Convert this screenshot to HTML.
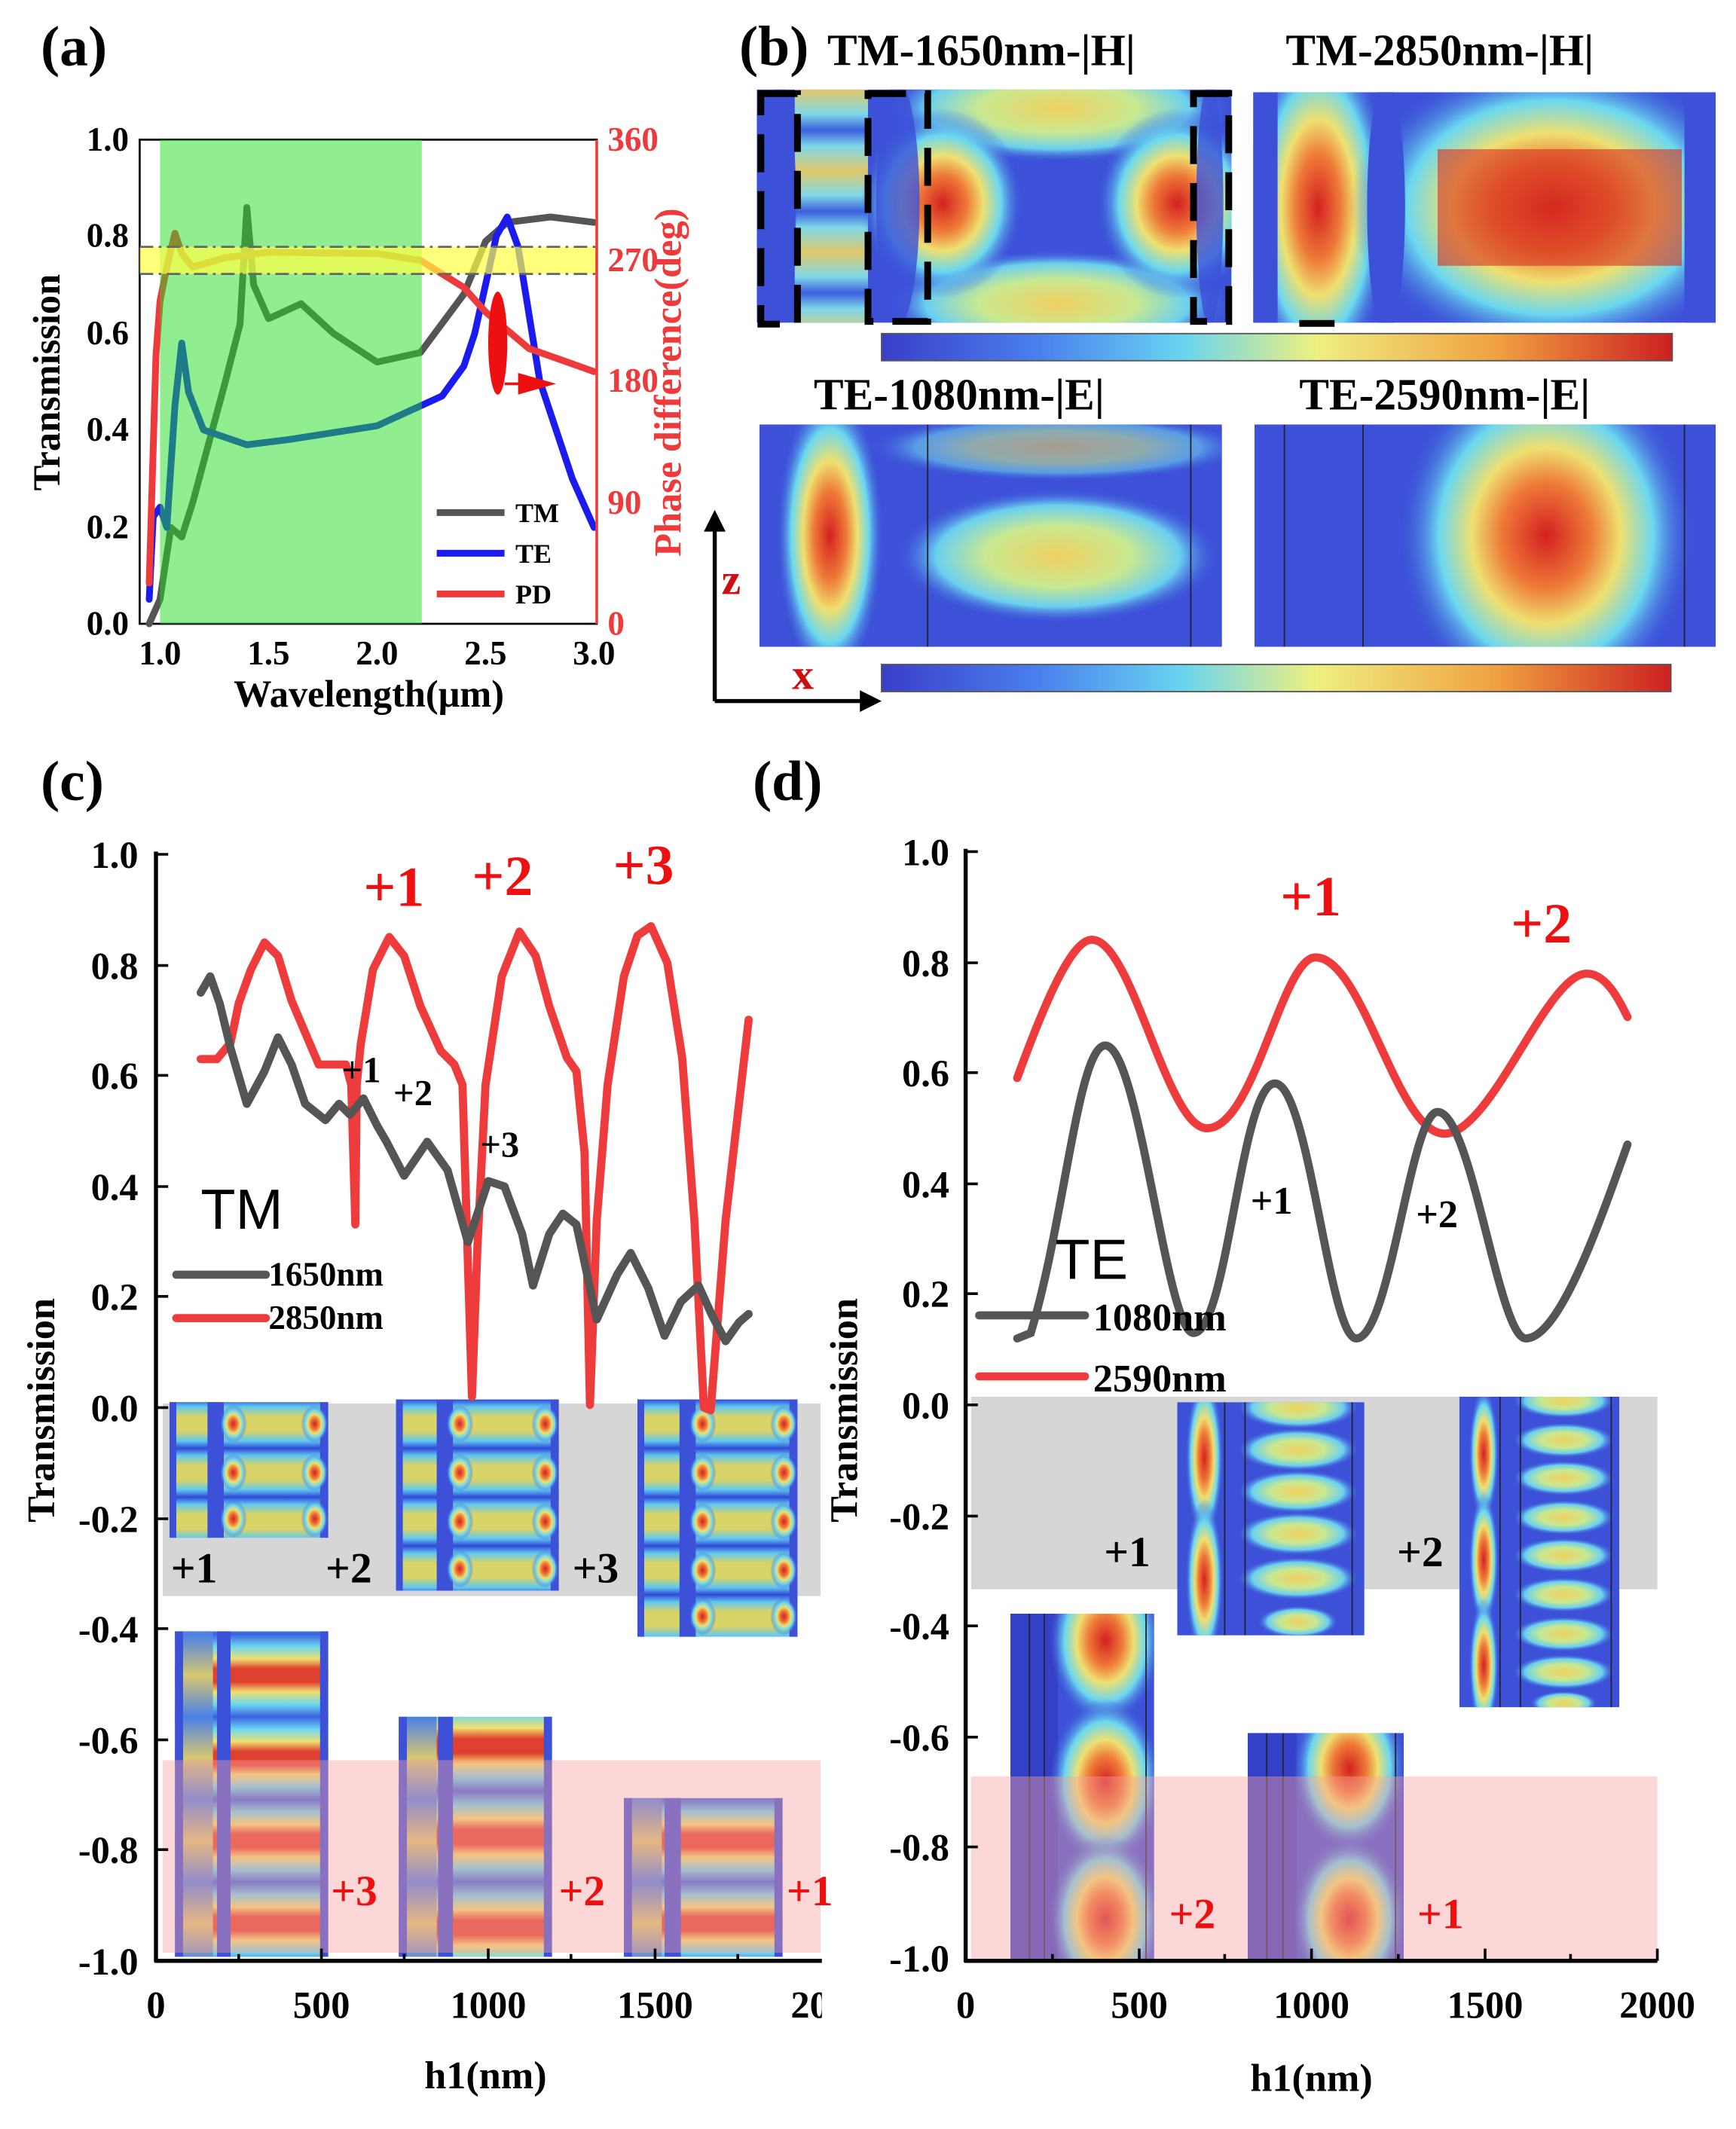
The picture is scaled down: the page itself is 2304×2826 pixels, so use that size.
<!DOCTYPE html>
<html><head><meta charset="utf-8"><style>html,body{margin:0;padding:0;background:#fff}svg{display:block}</style></head><body>
<svg xmlns="http://www.w3.org/2000/svg" width="2304" height="2826" viewBox="0 0 1280 1570" font-family="'Liberation Serif',serif" font-weight="bold">
<defs>
<radialGradient id="bl"><stop offset="0" stop-color="#d42020"/><stop offset=".3" stop-color="#ee7a38"/><stop offset=".5" stop-color="#eee070"/><stop offset=".72" stop-color="#6ad8f0"/><stop offset="1" stop-color="#3c50d8" stop-opacity="0"/></radialGradient>
<radialGradient id="yb"><stop offset="0" stop-color="#f0d060"/><stop offset=".45" stop-color="#c8e890"/><stop offset=".75" stop-color="#6ad0f0"/><stop offset="1" stop-color="#3c50d8" stop-opacity="0"/></radialGradient>
<linearGradient id="cb" x1="0" x2="1" y1="0" y2="0"><stop offset="0" stop-color="#3a3ec8"/><stop offset=".2" stop-color="#4a80ee"/><stop offset=".38" stop-color="#68d4f0"/><stop offset=".55" stop-color="#eef080"/><stop offset=".78" stop-color="#f0a040"/><stop offset="1" stop-color="#cc2020"/></linearGradient>
<linearGradient id="rowT" gradientUnits="userSpaceOnUse" x1="0" y1="1032" x2="0" y2="1068" spreadMethod="repeat"><stop offset="0" stop-color="#3048d8"/><stop offset=".15" stop-color="#60c8f0"/><stop offset=".35" stop-color="#d8d468"/><stop offset=".65" stop-color="#d8d468"/><stop offset=".85" stop-color="#60c8f0"/><stop offset="1" stop-color="#3048d8"/></linearGradient>
<linearGradient id="bTM" gradientUnits="userSpaceOnUse" x1="0" y1="66" x2="0" y2="126" spreadMethod="repeat"><stop offset="0" stop-color="#e0c868"/><stop offset=".3" stop-color="#80d8e8"/><stop offset=".5" stop-color="#3c60e0"/><stop offset=".7" stop-color="#80d8e8"/><stop offset="1" stop-color="#e0c868"/></linearGradient>
<linearGradient id="cL" gradientUnits="userSpaceOnUse" x1="0" y1="1205" x2="0" y2="1266" spreadMethod="repeat"><stop offset="0" stop-color="#3a60e0"/><stop offset=".15" stop-color="#6cd8f0"/><stop offset=".3" stop-color="#f0e070"/><stop offset=".42" stop-color="#e04030"/><stop offset=".58" stop-color="#e04030"/><stop offset=".7" stop-color="#f0e070"/><stop offset=".85" stop-color="#6cd8f0"/><stop offset="1" stop-color="#3a60e0"/></linearGradient>
<linearGradient id="cM" href="#cL" gradientUnits="userSpaceOnUse" x1="0" y1="1254" x2="0" y2="1321" spreadMethod="repeat"/>
<linearGradient id="cR" href="#cL" gradientUnits="userSpaceOnUse" x1="0" y1="1327" x2="0" y2="1388" spreadMethod="repeat"/>
<linearGradient id="sL" gradientUnits="userSpaceOnUse" x1="0" y1="1205" x2="0" y2="1266" spreadMethod="repeat"><stop offset="0" stop-color="#4a80e8"/><stop offset=".5" stop-color="#d8c870"/><stop offset="1" stop-color="#4a80e8"/></linearGradient>
</defs>

<!-- ============ (a) ============ -->
<text x="30" y="48" font-size="42">(a)</text>
<rect x="103" y="103" width="337" height="357" fill="none" stroke="#000" stroke-width="1.5"/>
<g fill="none" stroke-width="5" stroke-linejoin="round" stroke-linecap="round">
<polyline stroke="#555" points="110,460 118,442 126,389 134,396 142,371 166,282 177,239 182,153 187,210 198,235 222,224 246,246 278,267 310,260 342,217 358,178 374,164 406,160 438,164"/>
<polyline stroke="#1b1bf0" points="110,442 113,381 118,374 123,389 129,299 134,253 139,289 150,317 182,328 214,324 278,314 326,292 342,270 350,246 366,174 374,160 382,182 398,281 422,353 438,389"/>
<polyline stroke="#ee3a3a" points="110,430 115,262 118,222 123,197 129,172 134,187 142,197 166,190 198,186 278,187 310,192 342,212 358,230 390,257 438,274"/>
</g>
<rect x="118" y="103" width="193" height="357" fill="#22dd22" opacity="0.5"/>
<rect x="103" y="182" width="337" height="20" fill="#ffff44" opacity="0.7"/>
<line x1="103" y1="182" x2="440" y2="182" stroke="#666" stroke-width="1.5" stroke-dasharray="10,4,2,4"/>
<line x1="103" y1="202" x2="440" y2="202" stroke="#666" stroke-width="1.5" stroke-dasharray="10,4,2,4"/>
<ellipse cx="367" cy="253" rx="7" ry="38" fill="#ee1010"/>
<line x1="372" y1="283" x2="392" y2="283" stroke="#ee1010" stroke-width="2"/>
<polygon points="382,275 410,283 382,291" fill="#ee1010"/>
<line x1="440" y1="103" x2="440" y2="460" stroke="#ee3a3a" stroke-width="2"/>
<g font-size="25" text-anchor="end">
<text x="95" y="111">1.0</text><text x="95" y="182">0.8</text><text x="95" y="254">0.6</text><text x="95" y="325">0.4</text><text x="95" y="397">0.2</text><text x="95" y="468">0.0</text>
</g>
<g font-size="25" fill="#ee3a3a">
<text x="448" y="111">360</text><text x="448" y="200">270</text><text x="448" y="289">180</text><text x="448" y="379">90</text><text x="448" y="468">0</text>
</g>
<g font-size="25" text-anchor="middle"><text x="118" y="490">1.0</text><text x="198" y="490">1.5</text><text x="278" y="490">2.0</text><text x="358" y="490">2.5</text><text x="438" y="490">3.0</text></g>
<text x="272" y="521" font-size="28" text-anchor="middle">Wavelength(μm)</text>
<text transform="translate(44,282) rotate(-90)" font-size="28" text-anchor="middle">Transmission</text>
<text transform="translate(502,282) rotate(-90)" font-size="28" text-anchor="middle" fill="#ee3a3a">Phase difference(deg)</text>
<g stroke-width="5"><line x1="322" y1="378" x2="372" y2="378" stroke="#555"/><line x1="322" y1="408" x2="372" y2="408" stroke="#1b1bf0"/><line x1="322" y1="438" x2="372" y2="438" stroke="#ee3a3a"/></g>
<g font-size="20"><text x="380" y="385">TM</text><text x="380" y="415">TE</text><text x="380" y="445">PD</text></g>

<!-- ============ (b) ============ -->
<text x="545" y="48" font-size="42">(b)</text>
<g font-size="33"><text x="610" y="48">TM-1650nm-|H|</text><text x="948" y="48">TM-2850nm-|H|</text><text x="600" y="302">TE-1080nm-|E|</text><text x="958" y="302">TE-2590nm-|E|</text></g>
<!-- TM-1650 -->
<svg x="558" y="66" width="350" height="172" viewBox="558 66 350 172">
<rect x="558" y="66" width="350" height="172" fill="#3c50d8"/>
<rect x="586" y="66" width="54" height="172" fill="url(#bTM)"/>
<ellipse cx="780" cy="80" rx="130" ry="40" fill="url(#yb)"/><ellipse cx="780" cy="224" rx="130" ry="40" fill="url(#yb)"/>
<ellipse cx="695" cy="150" rx="60" ry="70" fill="url(#bl)"/><ellipse cx="868" cy="150" rx="60" ry="70" fill="url(#bl)"/>
<ellipse cx="662" cy="150" rx="16" ry="90" fill="#3c50d8" opacity=".8"/><ellipse cx="575" cy="150" rx="12" ry="90" fill="#3c50d8" opacity=".8"/><ellipse cx="892" cy="150" rx="10" ry="90" fill="#3c50d8" opacity=".8"/>
</svg>
<g fill="none" stroke="#000" stroke-width="5" stroke-dasharray="28,14"><rect x="561" y="69" width="27" height="170"/><rect x="640" y="69" width="44" height="168"/><rect x="880" y="69" width="26" height="168"/></g>
<!-- TM-2850 -->
<svg x="924" y="68" width="341" height="170" viewBox="924 68 341 170">
<rect x="924" y="68" width="341" height="170" fill="#3c50d8"/>
<ellipse cx="972" cy="153" rx="55" ry="130" fill="url(#bl)"/>
<ellipse cx="1145" cy="153" rx="150" ry="110" fill="url(#bl)"/>
<rect x="1060" y="110" width="180" height="86" fill="#d63020" opacity=".6"/>
<ellipse cx="1022" cy="153" rx="14" ry="95" fill="#3c50d8"/><rect x="1242" y="68" width="23" height="170" fill="#3c50d8"/><rect x="924" y="68" width="18" height="170" fill="#3c50d8"/>
</svg>
<rect x="958" y="236" width="26" height="5" fill="#000"/>
<rect x="650" y="246" width="583" height="20" fill="url(#cb)" stroke="#555" stroke-width="1"/>
<!-- TE-1080 -->
<svg x="560" y="313" width="341" height="164" viewBox="560 313 341 164">
<rect x="560" y="313" width="341" height="164" fill="#3c50d8"/>
<ellipse cx="612" cy="395" rx="40" ry="110" fill="url(#bl)"/>
<ellipse cx="780" cy="410" rx="120" ry="50" fill="url(#yb)"/>
<ellipse cx="780" cy="330" rx="140" ry="25" fill="url(#yb)" opacity=".6"/>
<line x1="684" y1="313" x2="684" y2="477" stroke="#223" stroke-width="1"/><line x1="878" y1="313" x2="878" y2="477" stroke="#223" stroke-width="1"/>
</svg>
<!-- TE-2590 -->
<svg x="925" y="313" width="340" height="164" viewBox="925 313 340 164">
<rect x="925" y="313" width="340" height="164" fill="#3c50d8"/>
<ellipse cx="1140" cy="395" rx="110" ry="130" fill="url(#bl)"/>
<line x1="947" y1="313" x2="947" y2="477" stroke="#223"/><line x1="1005" y1="313" x2="1005" y2="477" stroke="#223"/><line x1="1242" y1="313" x2="1242" y2="477" stroke="#223"/>
</svg>
<rect x="650" y="490" width="582" height="20" fill="url(#cb)" stroke="#555" stroke-width="1"/>
<line x1="527" y1="517" x2="527" y2="390" stroke="#000" stroke-width="3"/><polygon points="519,392 527,376 535,392" fill="#000"/>
<line x1="527" y1="517" x2="636" y2="517" stroke="#000" stroke-width="3"/><polygon points="634,509 650,517 634,525" fill="#000"/>
<text x="532" y="438" font-size="32" fill="#cc1010">z</text><text x="584" y="508" font-size="32" fill="#cc1010">x</text>

<!-- ============ (c) ============ -->
<text x="30" y="590" font-size="42">(c)</text>
<rect x="120" y="1035" width="485" height="142" fill="#d6d6d6"/>
<g>
<rect x="125" y="1034" width="117" height="100" fill="url(#rowT)"/><rect x="125" y="1034" width="42" height="100" fill="url(#rowT)" opacity=".7"/>
<rect x="153" y="1034" width="12" height="100" fill="#3c50d8"/><rect x="125" y="1034" width="5" height="100" fill="#3c50d8"/><rect x="236" y="1034" width="6" height="100" fill="#3c50d8"/>
<rect x="292" y="1032" width="120" height="141" fill="url(#rowT)"/>
<rect x="322" y="1032" width="12" height="141" fill="#3c50d8"/><rect x="292" y="1032" width="5" height="141" fill="#3c50d8"/><rect x="406" y="1032" width="6" height="141" fill="#3c50d8"/>
<rect x="470" y="1032" width="118" height="175" fill="url(#rowT)"/>
<rect x="501" y="1032" width="12" height="175" fill="#3c50d8"/><rect x="470" y="1032" width="5" height="175" fill="#3c50d8"/><rect x="582" y="1032" width="6" height="175" fill="#3c50d8"/>
<g fill="url(#bl)">
<ellipse cx="172" cy="1050" rx="10" ry="14"/><ellipse cx="232" cy="1050" rx="10" ry="14"/><ellipse cx="172" cy="1086" rx="10" ry="14"/><ellipse cx="232" cy="1086" rx="10" ry="14"/><ellipse cx="172" cy="1120" rx="10" ry="14"/><ellipse cx="232" cy="1120" rx="10" ry="14"/>
<ellipse cx="339" cy="1050" rx="10" ry="14"/><ellipse cx="402" cy="1050" rx="10" ry="14"/><ellipse cx="339" cy="1086" rx="10" ry="14"/><ellipse cx="402" cy="1086" rx="10" ry="14"/><ellipse cx="339" cy="1122" rx="10" ry="14"/><ellipse cx="402" cy="1122" rx="10" ry="14"/><ellipse cx="339" cy="1157" rx="10" ry="14"/><ellipse cx="402" cy="1157" rx="10" ry="14"/>
<ellipse cx="518" cy="1050" rx="10" ry="14"/><ellipse cx="578" cy="1050" rx="10" ry="14"/><ellipse cx="518" cy="1086" rx="10" ry="14"/><ellipse cx="578" cy="1086" rx="10" ry="14"/><ellipse cx="518" cy="1122" rx="10" ry="14"/><ellipse cx="578" cy="1122" rx="10" ry="14"/><ellipse cx="518" cy="1158" rx="10" ry="14"/><ellipse cx="578" cy="1158" rx="10" ry="14"/><ellipse cx="518" cy="1192" rx="10" ry="14"/><ellipse cx="578" cy="1192" rx="10" ry="14"/>
</g>
</g>
<g font-size="32"><text x="126" y="1167">+1</text><text x="240" y="1167">+2</text><text x="422" y="1167">+3</text></g>
<rect x="129" y="1203" width="113" height="240" fill="url(#cL)"/><rect x="135" y="1203" width="22" height="240" fill="url(#sL)"/><rect x="129" y="1203" width="6" height="240" fill="#3c50d8"/><rect x="160" y="1203" width="10" height="240" fill="#3c50d8"/><rect x="236" y="1203" width="6" height="240" fill="#3c50d8"/>
<rect x="294" y="1266" width="113" height="177" fill="url(#cM)"/><rect x="300" y="1266" width="22" height="177" fill="url(#sL)"/><rect x="294" y="1266" width="6" height="177" fill="#3c50d8"/><rect x="323" y="1266" width="11" height="177" fill="#3c50d8"/><rect x="401" y="1266" width="6" height="177" fill="#3c50d8"/>
<rect x="460" y="1326" width="117" height="117" fill="url(#cR)"/><rect x="466" y="1326" width="22" height="117" fill="url(#sL)"/><rect x="460" y="1326" width="6" height="117" fill="#3c50d8"/><rect x="490" y="1326" width="12" height="117" fill="#3c50d8"/><rect x="571" y="1326" width="6" height="117" fill="#3c50d8"/>
<rect x="120" y="1298" width="485" height="142" fill="#f8a0a0" opacity=".42"/>
<g font-size="32" fill="#ee1010"><text x="244" y="1405">+3</text><text x="412" y="1405">+2</text><text x="580" y="1405">+1</text></g>
<g fill="none" stroke-width="6" stroke-linejoin="round" stroke-linecap="round">
<polyline stroke="#ee3c3c" points="148,781 160,781 170,769 176,740 185,715 195,695 205,705 215,738 235,785 255,785 259,800 262,903 263,800 266,770 275,715 287,691 298,705 310,742 325,775 335,785 341,800 348,1030 352,920 358,800 370,720 383,687 395,705 405,742 418,780 425,790 431,850 435,1036 440,900 448,800 460,720 470,690 480,683 492,710 503,780 512,900 519,1038 524,1040 535,900 552,752"/>
<polyline stroke="#555" points="148,732 155,720 162,740 170,773 182,814 195,790 205,765 215,785 225,814 240,826 250,814 258,822 268,810 278,830 285,842 298,867 315,842 330,863 345,916 360,871 372,875 385,910 393,948 405,910 415,895 425,903 440,973 455,940 465,924 478,950 490,985 502,960 515,948 525,970 535,989 545,975 552,969"/>
</g>
<g font-size="42" fill="#ee1010"><text x="268" y="668">+1</text><text x="348" y="660">+2</text><text x="452" y="652">+3</text></g>
<g font-size="27"><text x="252" y="798">+1</text><text x="290" y="815">+2</text><text x="354" y="853">+3</text></g>
<text x="148" y="906" font-size="42" font-family="'Liberation Sans',sans-serif" font-weight="normal">TM</text>
<line x1="130" y1="940" x2="196" y2="940" stroke="#555" stroke-width="6" stroke-linecap="round"/><line x1="130" y1="972" x2="196" y2="972" stroke="#ee3c3c" stroke-width="6" stroke-linecap="round"/>
<g font-size="25"><text x="198" y="948">1650nm</text><text x="198" y="980">2850nm</text></g>
<line x1="115" y1="628" x2="115" y2="1447" stroke="#000" stroke-width="3"/><line x1="114" y1="1446" x2="606" y2="1446" stroke="#000" stroke-width="3"/>
<g stroke="#000" stroke-width="2">
<line x1="115" y1="630" x2="124" y2="630"/><line x1="115" y1="712" x2="124" y2="712"/><line x1="115" y1="793" x2="124" y2="793"/><line x1="115" y1="875" x2="124" y2="875"/><line x1="115" y1="956" x2="124" y2="956"/><line x1="115" y1="1038" x2="124" y2="1038"/><line x1="115" y1="1120" x2="124" y2="1120"/><line x1="115" y1="1201" x2="124" y2="1201"/><line x1="115" y1="1283" x2="124" y2="1283"/><line x1="115" y1="1364" x2="124" y2="1364"/>
<line x1="237" y1="1446" x2="237" y2="1437"/><line x1="360" y1="1446" x2="360" y2="1437"/><line x1="483" y1="1446" x2="483" y2="1437"/><line x1="176" y1="1446" x2="176" y2="1441"/><line x1="298" y1="1446" x2="298" y2="1441"/><line x1="421" y1="1446" x2="421" y2="1441"/><line x1="544" y1="1446" x2="544" y2="1441"/>
</g>
<g font-size="28" text-anchor="end"><text x="102" y="640">1.0</text><text x="102" y="722">0.8</text><text x="102" y="803">0.6</text><text x="102" y="885">0.4</text><text x="102" y="966">0.2</text><text x="102" y="1048">0.0</text><text x="102" y="1130">-0.2</text><text x="102" y="1211">-0.4</text><text x="102" y="1293">-0.6</text><text x="102" y="1374">-0.8</text><text x="102" y="1456">-1.0</text></g>
<g font-size="28" text-anchor="middle"><text x="115" y="1488">0</text><text x="237" y="1488">500</text><text x="360" y="1488">1000</text><text x="483" y="1488">1500</text></g>
<text x="583" y="1488" font-size="28">200</text>
<rect x="606" y="1460" width="40" height="40" fill="#fff"/>
<text x="358" y="1540" font-size="29" text-anchor="middle">h1(nm)</text>
<text transform="translate(40,1040) rotate(-90)" font-size="29" text-anchor="middle">Transmission</text>

<!-- ============ (d) ============ -->
<text x="555" y="590" font-size="42">(d)</text>
<rect x="716" y="1030" width="506" height="142" fill="#d6d6d6"/>
<svg x="868" y="1034" width="138" height="172" viewBox="868 1034 138 172">
<rect x="868" y="1034" width="138" height="172" fill="#3c50d8"/>
<ellipse cx="888" cy="1075" rx="14" ry="60" fill="url(#bl)"/><ellipse cx="888" cy="1165" rx="14" ry="60" fill="url(#bl)"/>
<g fill="url(#yb)"><ellipse cx="957" cy="1038" rx="45" ry="16"/><ellipse cx="957" cy="1069" rx="45" ry="16"/><ellipse cx="957" cy="1100" rx="45" ry="16"/><ellipse cx="957" cy="1131" rx="45" ry="16"/><ellipse cx="957" cy="1164" rx="45" ry="16"/><ellipse cx="957" cy="1196" rx="30" ry="12"/></g>
<line x1="903" y1="1034" x2="903" y2="1206" stroke="#223"/><line x1="918" y1="1034" x2="918" y2="1206" stroke="#223"/><line x1="997" y1="1034" x2="997" y2="1206" stroke="#223"/>
</svg>
<svg x="1076" y="1030" width="118" height="229" viewBox="1076 1030 118 229">
<rect x="1076" y="1030" width="118" height="229" fill="#3c50d8"/>
<ellipse cx="1094" cy="1072" rx="11" ry="50" fill="url(#bl)"/><ellipse cx="1094" cy="1150" rx="11" ry="50" fill="url(#bl)"/><ellipse cx="1094" cy="1228" rx="11" ry="50" fill="url(#bl)"/>
<g fill="url(#yb)"><ellipse cx="1153" cy="1033" rx="38" ry="13"/><ellipse cx="1153" cy="1062" rx="38" ry="13"/><ellipse cx="1153" cy="1090" rx="38" ry="13"/><ellipse cx="1153" cy="1119" rx="38" ry="13"/><ellipse cx="1153" cy="1147" rx="38" ry="13"/><ellipse cx="1153" cy="1176" rx="38" ry="13"/><ellipse cx="1153" cy="1205" rx="38" ry="13"/><ellipse cx="1153" cy="1233" rx="38" ry="13"/><ellipse cx="1153" cy="1256" rx="25" ry="9"/></g>
<line x1="1106" y1="1030" x2="1106" y2="1259" stroke="#223"/><line x1="1121" y1="1030" x2="1121" y2="1259" stroke="#223"/><line x1="1188" y1="1030" x2="1188" y2="1259" stroke="#223"/>
</svg>
<g font-size="32"><text x="814" y="1155">+1</text><text x="1030" y="1155">+2</text></g>
<svg x="745" y="1190" width="106" height="255" viewBox="745 1190 106 255">
<rect x="745" y="1190" width="106" height="255" fill="#3c50d8"/><rect x="745" y="1190" width="35" height="255" fill="#3440c8"/>
<g fill="url(#bl)"><ellipse cx="815" cy="1210" rx="42" ry="62"/><ellipse cx="815" cy="1314" rx="42" ry="62"/><ellipse cx="815" cy="1415" rx="42" ry="62"/></g>
<line x1="759" y1="1190" x2="759" y2="1445" stroke="#223"/><line x1="770" y1="1190" x2="770" y2="1445" stroke="#223"/><line x1="845" y1="1190" x2="845" y2="1445" stroke="#223"/>
</svg>
<svg x="920" y="1278" width="115" height="169" viewBox="920 1278 115 169">
<rect x="920" y="1278" width="115" height="169" fill="#3c50d8"/><rect x="920" y="1278" width="36" height="169" fill="#3440c8"/>
<g fill="url(#bl)"><ellipse cx="995" cy="1304" rx="42" ry="60"/><ellipse cx="995" cy="1415" rx="42" ry="60"/></g>
<line x1="934" y1="1278" x2="934" y2="1447" stroke="#223"/><line x1="946" y1="1278" x2="946" y2="1447" stroke="#223"/><line x1="1029" y1="1278" x2="1029" y2="1447" stroke="#223"/>
</svg>
<rect x="716" y="1310" width="506" height="136" fill="#f8a0a0" opacity=".42"/>
<g font-size="32" fill="#ee1010"><text x="862" y="1422">+2</text><text x="1045" y="1422">+1</text></g>
<g fill="none" stroke-width="6" stroke-linecap="round">
<path stroke="#ee3c3c" d="M750,795 C770,740 790,693 805,693 C835,693 860,832 890,832 C925,832 945,706 970,706 C1005,706 1030,836 1065,836 C1100,836 1140,718 1170,718 C1185,718 1195,740 1200,750"/>
<path stroke="#555" d="M750,987 L760,983 C785,900 795,771 815,771 C840,771 860,983 880,983 C905,983 915,799 940,799 C965,799 980,987 1000,987 C1025,987 1040,820 1060,820 C1085,820 1105,987 1125,987 C1150,987 1180,900 1200,844"/>
</g>
<g font-size="42" fill="#ee1010"><text x="944" y="675">+1</text><text x="1114" y="695">+2</text></g>
<g font-size="29"><text x="922" y="895">+1</text><text x="1044" y="905">+2</text></g>
<text x="778" y="943" font-size="42" font-family="'Liberation Sans',sans-serif" font-weight="normal">TE</text>
<line x1="722" y1="970" x2="800" y2="970" stroke="#555" stroke-width="6" stroke-linecap="round"/><line x1="722" y1="1015" x2="800" y2="1015" stroke="#ee3c3c" stroke-width="6" stroke-linecap="round"/>
<g font-size="29"><text x="806" y="981">1080nm</text><text x="806" y="1026">2590nm</text></g>
<line x1="712" y1="626" x2="712" y2="1447" stroke="#000" stroke-width="3"/><line x1="711" y1="1446" x2="1222" y2="1446" stroke="#000" stroke-width="3"/>
<g stroke="#000" stroke-width="2">
<line x1="712" y1="628" x2="721" y2="628"/><line x1="712" y1="710" x2="721" y2="710"/><line x1="712" y1="791" x2="721" y2="791"/><line x1="712" y1="873" x2="721" y2="873"/><line x1="712" y1="954" x2="721" y2="954"/><line x1="712" y1="1036" x2="721" y2="1036"/><line x1="712" y1="1118" x2="721" y2="1118"/><line x1="712" y1="1199" x2="721" y2="1199"/><line x1="712" y1="1281" x2="721" y2="1281"/><line x1="712" y1="1362" x2="721" y2="1362"/>
<line x1="840" y1="1446" x2="840" y2="1437"/><line x1="967" y1="1446" x2="967" y2="1437"/><line x1="1095" y1="1446" x2="1095" y2="1437"/><line x1="1222" y1="1446" x2="1222" y2="1437"/><line x1="776" y1="1446" x2="776" y2="1441"/><line x1="903" y1="1446" x2="903" y2="1441"/><line x1="1031" y1="1446" x2="1031" y2="1441"/><line x1="1158" y1="1446" x2="1158" y2="1441"/>
</g>
<g font-size="28" text-anchor="end"><text x="700" y="638">1.0</text><text x="700" y="720">0.8</text><text x="700" y="801">0.6</text><text x="700" y="883">0.4</text><text x="700" y="964">0.2</text><text x="700" y="1046">0.0</text><text x="700" y="1128">-0.2</text><text x="700" y="1209">-0.4</text><text x="700" y="1291">-0.6</text><text x="700" y="1372">-0.8</text><text x="700" y="1454">-1.0</text></g>
<g font-size="28" text-anchor="middle"><text x="712" y="1488">0</text><text x="840" y="1488">500</text><text x="967" y="1488">1000</text><text x="1095" y="1488">1500</text><text x="1222" y="1488">2000</text></g>
<text x="967" y="1542" font-size="29" text-anchor="middle">h1(nm)</text>
<text transform="translate(632,1040) rotate(-90)" font-size="29" text-anchor="middle">Transmission</text>
</svg>
</body></html>
